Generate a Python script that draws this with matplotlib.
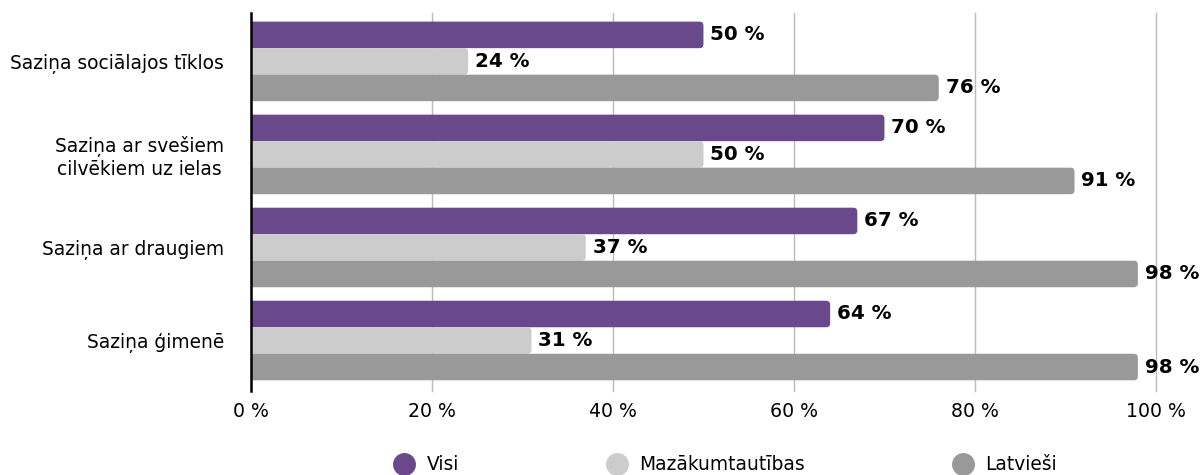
import matplotlib.pyplot as plt
import numpy as np
from matplotlib.patches import FancyBboxPatch
from matplotlib.lines import Line2D

# Dati
kategorijas = ["Saziņa sociālajos tīklos",
               "Saziņa ar svešiem\ncilvēkiem uz ielas",
               "Saziņa ar draugiem",
               "Saziņa ģimenē"]
visi = [50, 70, 67, 64]
mazakumtautibas = [24, 50, 37, 31]
latviesi = [76, 91, 98, 98]

serijas = ["Visi", "Mazākumtautības", "Latvieši"]
krasas = ["#69498b", "#cccccc", "#999999"]

plt.rcParams['font.family'] = ['DejaVu Sans']

fig = plt.figure(figsize=(12.03, 4.75), dpi=100)
ax = fig.add_axes([0.2086, 0.1768, 0.7523, 0.7958])

y = np.arange(len(kategorijas))
h = 0.285
vertibas = [visi, mazakumtautibas, latviesi]

# px -> datu vienības noapaļotajiem stūriem
px_x = 100 / 905
px_y = 1 / 93
r = 4

for i, (vals, kr) in enumerate(zip(vertibas, krasas)):
    pos = y + (i - 1) * h
    bars = ax.barh(pos, vals, height=h, color=kr)
    for b, v in zip(bars, vals):
        b.set_visible(False)
        x0, y0 = b.get_x(), b.get_y()
        w, hh = b.get_width(), b.get_height()
        p = FancyBboxPatch((x0 - 2, y0), w + 2, hh,
                           boxstyle=f"round,pad=0,rounding_size={r * px_x}",
                           mutation_aspect=px_y / px_x,
                           facecolor=kr, edgecolor='none', zorder=2)
        ax.add_patch(p)
        ax.text(v + 0.75, b.get_y() + hh / 2, f"{v} %", va='center', ha='left',
                fontsize=14.3, fontweight='bold', color='black', zorder=3)

ax.set_xlim(0, 100)
ax.set_ylim(3.543, -0.52)
ax.set_yticks(y)
ax.set_yticklabels(kategorijas, fontsize=13.4, ha='right', multialignment='center')
ax.set_xticks(np.arange(0, 101, 20))
ax.set_xticklabels([f"{t} %" for t in range(0, 101, 20)], fontsize=13.6)
ax.tick_params(axis='y', length=0, pad=19.5)
ax.tick_params(axis='x', length=0, pad=8)

for s in ['top', 'right', 'bottom']:
    ax.spines[s].set_visible(False)
ax.spines['left'].set_linewidth(1.8)
ax.spines['left'].set_color('black')
ax.spines['left'].set_zorder(4)

ax.set_axisbelow(True)
ax.grid(axis='x', color='#bbbbbb', linewidth=1)
ax.grid(axis='y', visible=False)
for gl in ax.get_xgridlines():
    gl.set_clip_on(False)

# Leģenda
roki = [Line2D([0], [0], marker='o', linestyle='none', markersize=15.5,
               markerfacecolor=k, markeredgecolor=k) for k in krasas]
fig.legend(roki, serijas, loc='center', bbox_to_anchor=(725 / 1203, 1 - 465 / 475),
           ncol=3, frameon=False, fontsize=13.4, handlelength=1.2,
           handletextpad=0.6, columnspacing=7.9, borderaxespad=0, borderpad=0)

plt.savefig("out.png", dpi=100)
